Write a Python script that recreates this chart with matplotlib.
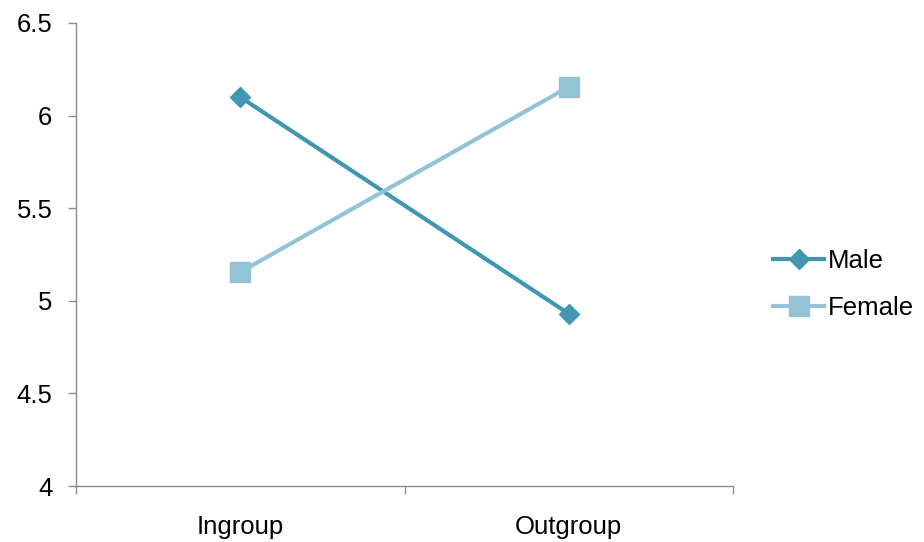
import matplotlib
matplotlib.use("Agg")
import matplotlib.pyplot as plt

plt.rcParams['font.family'] = ['Liberation Sans', 'DejaVu Sans']

categories = ["Ingroup", "Outgroup"]
male = [6.10, 4.93]
female = [5.155, 6.155]
y_ticks = [4, 4.5, 5, 5.5, 6, 6.5]
y_tick_labels = ["4", "4.5", "5", "5.5", "6", "6.5"]

male_color = "#4297B0"
female_color = "#93C4D5"
axis_color = "#8C8C8C"
font_size = 18.5

fig = plt.figure(figsize=(9.24, 5.42), dpi=100)
ax = fig.add_axes([76 / 924, 1 - 486 / 542, (733 - 76) / 924, (486 - 23) / 542])

x = list(range(len(categories)))
ax.plot(x, male, color=male_color, lw=3, marker="D", ms=10, label="Male")
ax.plot(x, female, color=female_color, lw=3, marker="s", ms=14, label="Female")

ax.set_xlim(-0.5, len(categories) - 0.5)
ax.set_ylim(4, 6.5)
ax.set_yticks(y_ticks)
ax.set_yticklabels(y_tick_labels)

# Category boundaries carry the tick marks; names sit centred on minor ticks
ax.set_xticks([i - 0.5 for i in range(len(categories) + 1)])
ax.set_xticklabels([])
ax.set_xticks(x, minor=True)
ax.set_xticklabels(categories, minor=True)

for side in ("top", "right"):
    ax.spines[side].set_visible(False)
for side in ("left", "bottom"):
    ax.spines[side].set_color(axis_color)
    ax.spines[side].set_linewidth(1)

ax.tick_params(axis="y", which="major", direction="out", length=6, width=1,
               color=axis_color, labelsize=font_size, pad=11, labelcolor="black")
ax.tick_params(axis="x", which="major", direction="out", length=6, width=1,
               color=axis_color)
ax.tick_params(axis="x", which="minor", length=0, labelsize=font_size, pad=21,
               labelcolor="black")

ax.legend(loc="center left", bbox_to_anchor=(1.045, 0.435), frameon=False,
          fontsize=font_size, handlelength=2.0, handletextpad=0.15,
          labelspacing=0.88, borderaxespad=0)

fig.savefig("out.png", dpi=100, facecolor="white")
